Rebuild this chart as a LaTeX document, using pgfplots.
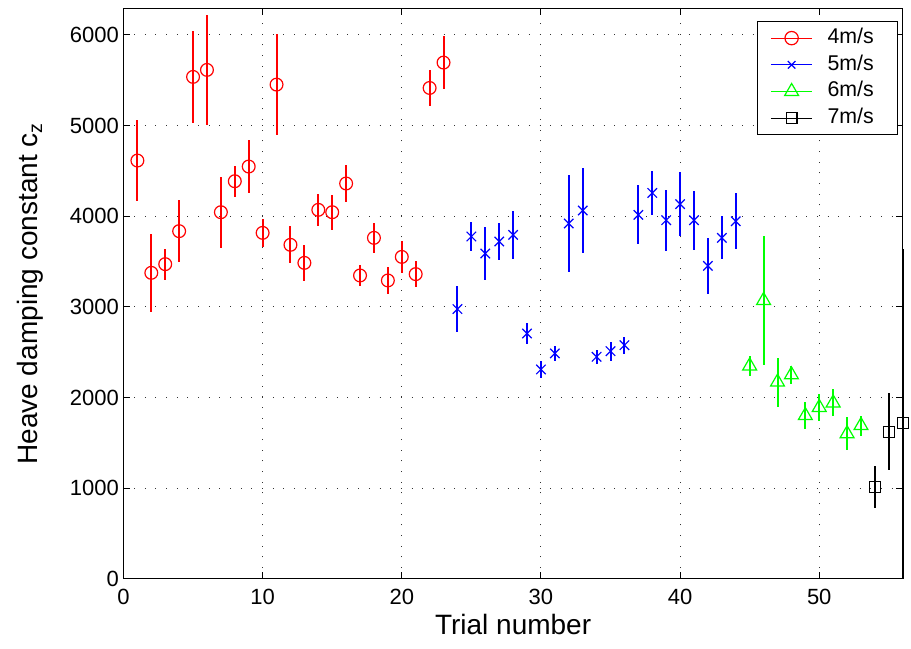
\documentclass[border=0pt]{standalone}
\usepackage{pgfplots}
\pgfplotsset{compat=1.18}
\usepackage{pgfplotstable}
\usepackage{fontspec}
\setmainfont{Liberation Sans}

\pgfplotstableread{
x y e
1 4614 450
2 3375 430
3 3471 170
4 3835 340
5 5537 505
6 5614 610
7 4044 390
8 4386 170
9 4548 290
10 3816 155
11 5452 555
12 3684 205
13 3485 195
14 4070 173
15 4044 195
16 4361 200
17 3346 116
18 3761 165
19 3291 147
20 3551 173
21 3361 145
22 5415 200
23 5695 290
}\redtab

\pgfplotstableread{
x y e
24 2975 257
25 3776 158
26 3588 295
27 3721 200
28 3794 265
29 2706 112
30 2309 94
31 2486 86
32 3919 540
33 4063 472
34 2449 77
35 2511 104
36 2577 92
37 4015 325
38 4257 240
39 3956 335
40 4133 350
41 3956 325
42 3452 311
43 3761 237
44 3945 308
}\bluetab

\pgfplotstableread{
x y e
45 2348 108
46 3070 710
47 2170 270
48 2250 100
49 1800 150
50 1890 150
51 1940 150
52 1600 180
53 1690 110
}\greentab

\pgfplotstableread{
x y ep em
54 1010 235 235
55 1620 425 425
56 1720 1915 1720
}\blacktab

\begin{document}
\begin{tikzpicture}
\begin{axis}[
  scale only axis, width=584.4pt, height=427.5pt,
  xmin=0, xmax=56, ymin=0, ymax=6290,
  clip=false,
  xtick={0,10,...,50}, ytick={0,1000,...,6000},
  tick align=inside, tick pos=both, major tick length=5pt,
  grid=major,
  grid style={black!80, line width=0.7pt, dash pattern=on 0.75pt off 7.25pt},
  axis line style={line width=0.9pt},
  every tick/.style={black, line width=0.8pt},
  ticklabel style={font=\fontsize{16.5}{19}\selectfont},
  /pgf/number format/assume math mode=true,
  /pgf/number format/1000 sep={},
  scaled y ticks=false,
  xticklabel style={yshift=-4pt},
  xlabel={Trial number},
  ylabel={Heave damping constant c\textsubscript{z}},
  every axis x label/.style={at={(rel axis cs:0.5,0)}, yshift=-42.2pt, anchor=base, inner sep=0pt, font=\fontsize{21}{25}\selectfont},
  every axis y label/.style={at={(rel axis cs:0,0.5)}, xshift=-59.6pt, rotate=90, anchor=south, inner sep=0pt, font=\fontsize{21}{25}\selectfont},
  legend style={at={(rel axis cs:1,1)}, anchor=north east, xshift=-3.3pt, yshift=-9.2pt,
    font=\fontsize{16}{19}\selectfont, draw=black, line width=0.8pt,
    inner xsep=10pt, inner ysep=4pt, cells={anchor=west},
    nodes={inner sep=1pt, text height=11.5pt, text depth=3.5pt}, row sep=3pt,
    /tikz/every odd column/.append style={column sep=10pt}},
  legend image code/.code={\draw[mark repeat=2,mark phase=2,#1] plot coordinates {(0pt,0pt)(15.5pt,0pt)(31pt,0pt)};},
]
\addplot[forget plot, only marks, color=red, mark=o, mark size=4.8pt, line width=0.9pt,
  error bars/.cd, y dir=both, y explicit, error mark=none, error bar style={line width=1.5pt, color=red}]
  table[x=x, y=y, y error=e]{\redtab};
\addplot[forget plot, only marks, color=blue, mark=x, mark size=5pt, line width=0.9pt,
  error bars/.cd, y dir=both, y explicit, error mark=none, error bar style={line width=1.5pt, color=blue}]
  table[x=x, y=y, y error=e]{\bluetab};
\addplot[forget plot, only marks, color=green, mark=triangle, mark size=6pt, line width=0.9pt,
  error bars/.cd, y dir=both, y explicit, error mark=none, error bar style={line width=1.5pt, color=green}]
  table[x=x, y=y, y error=e]{\greentab};
\addplot[forget plot, only marks, color=black, mark=square, mark size=4.2pt, line width=0.9pt,
  error bars/.cd, y dir=both, y explicit, error mark=none, error bar style={line width=1.5pt, color=black}]
  table[x=x, y=y, y error plus=ep, y error minus=em]{\blacktab};

\addlegendimage{color=red, mark=o, mark size=5pt, line width=0.9pt}
\addlegendentry{4m/s\hspace*{7pt}}
\addlegendimage{color=blue, mark=x, mark size=4pt, line width=0.9pt}
\addlegendentry{5m/s\hspace*{7pt}}
\addlegendimage{color=green, mark=triangle, mark size=6pt, line width=0.9pt}
\addlegendentry{6m/s\hspace*{7pt}}
\addlegendimage{color=black, mark=square, mark size=4pt, line width=0.9pt}
\addlegendentry{7m/s\hspace*{7pt}}
\end{axis}
\pgfresetboundingbox
\path (current axis.south west) ++(-92.6pt,-52pt);
\path (current axis.north east) ++(6.2pt,6.5pt);
\end{tikzpicture}
\end{document}
